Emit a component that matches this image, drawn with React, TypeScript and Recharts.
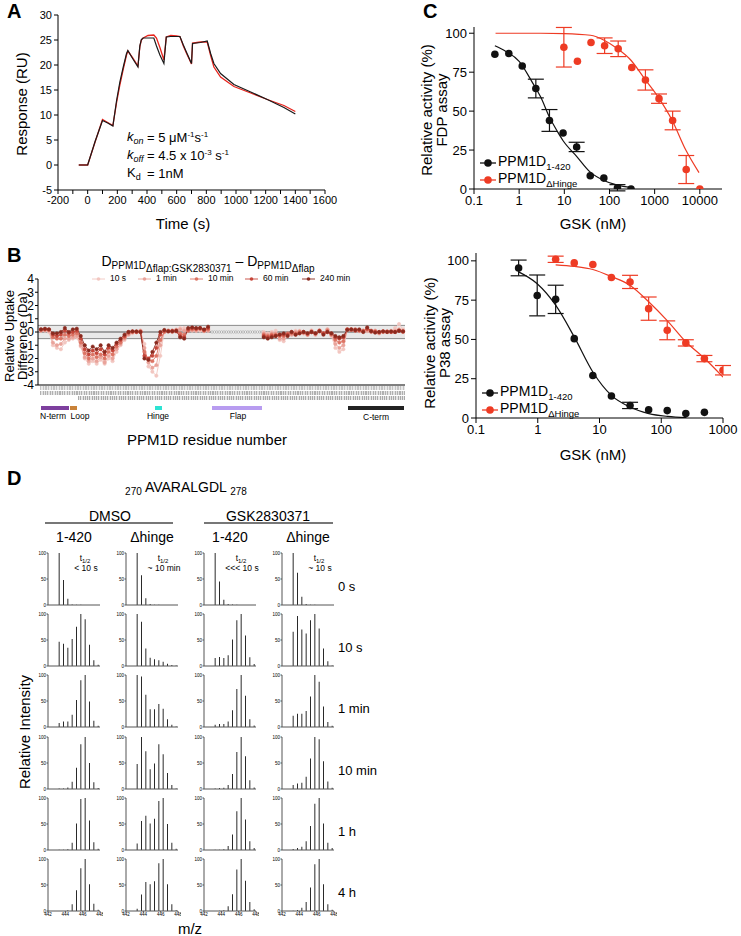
import React from "react";
import {
  LineChart,
  Line,
  ComposedChart,
  Scatter,
  ErrorBar,
  BarChart,
  Bar,
  XAxis,
  YAxis,
  ZAxis,
  ReferenceArea,
  ReferenceLine,
} from "recharts";

const FONT = '"Liberation Sans", Arial, Helvetica, sans-serif';
const RED = "#ee3b24";
const BLK = "#111111";

// ---------- A: SPR sensorgram ----------
const timeA = [-60, 0, 50, 100, 135, 170, 195, 217, 240, 262, 271, 305, 339, 352, 362, 374, 407, 446, 464, 487, 514, 530, 560, 600, 622, 645, 667, 700, 707, 760, 806, 829, 851, 896, 986, 1099, 1211, 1323, 1400];
const blackA = [0, 0, 4.7, 8.9, 8.4, 7.8, 12.9, 16.6, 19.6, 22.3, 22.9, 21.2, 19.6, 23.9, 25.1, 25.4, 25.4, 25.4, 23.8, 22.0, 20.3, 25.6, 25.7, 25.7, 25.7, 24.0, 22.5, 20.3, 24.3, 24.5, 24.8, 22.3, 20.3, 18.3, 16.1, 14.6, 13.1, 11.5, 10.2];
const redA = [0, 0, 4.6, 9.1, 8.5, 7.9, 12.5, 16.0, 19.2, 22.0, 22.8, 21.4, 19.8, 23.7, 25.0, 25.4, 25.9, 26.0, 25.4, 23.5, 21.0, 25.6, 25.9, 25.8, 25.7, 23.8, 22.3, 20.2, 24.4, 24.6, 24.6, 21.9, 19.6, 17.6, 15.7, 14.4, 13.1, 11.9, 10.7];
const ticksTimeA = [-200, -100, 0, 100, 200, 300, 400, 500, 600, 700, 800, 900, 1000, 1100, 1200, 1300, 1400, 1500, 1600];
const ticksRespA = [-5, 0, 5, 10, 15, 20, 25, 30];

// ---------- B: HDX difference plot ----------
const s240 = [0.2, 0.25, 0.2, -0.1, -0.1, 0.0, 0.3, 0.0, 0.2, 0.25, -0.3, -1.0, -1.4, -1.1, -1.3, -1.0, -1.5, -1.0, -1.2, -0.8, -0.5, -0.2, 0.0, 0.05, 0.05, 0.0, -2.0, -2.1, -1.5, -0.8, 0.0, 0.15, 0.05, 0.05, 0.1, -0.4, -0.5, 0.3, 0.35, 0.3, 0.3, 0.2, 0.4, null, null, null, null, null, null, null, null, null, null, null, null, null, -0.4, -0.5, -0.4, -0.3, -0.2, -0.1, -0.3, 0.0, -0.2, -0.1, 0.0, -0.1, 0.0, -0.1, 0.05, -0.2, 0.0, -0.1, -0.3, -0.4, -0.3, 0.15, 0.2, 0.15, 0.2, 0.0, 0.35, 0.05, -0.05, 0.0, 0.05, 0.0, 0.05, 0.0, 0.1, 0.05];
const s60 = [0.2, 0.2, 0.2, -0.2, -0.3, -0.2, 0.1, -0.1, 0.0, 0.1, -0.5, -1.3, -1.7, -1.4, -1.6, -1.3, -1.7, -1.2, -1.4, -0.9, -0.6, -0.3, 0.0, 0.05, 0.0, 0.0, -1.8, -2.0, -1.8, -1.2, -0.2, 0.1, 0.05, 0.1, 0.05, -0.3, -0.4, 0.2, 0.3, 0.25, 0.3, 0.15, 0.3, null, null, null, null, null, null, null, null, null, null, null, null, null, -0.3, -0.4, -0.3, -0.3, -0.2, -0.2, -0.2, 0.0, -0.2, -0.1, 0.0, -0.1, 0.0, -0.1, 0.1, -0.1, 0.0, -0.1, -0.4, -0.5, -0.4, 0.2, 0.2, 0.1, 0.15, 0.05, 0.25, 0.1, 0.0, 0.0, 0.05, 0.05, 0.0, 0.0, 0.1, 0.05];
const s10m = [0.15, 0.2, 0.15, -0.4, -0.5, -0.5, -0.2, -0.3, -0.2, -0.1, -0.8, -1.6, -2.0, -1.7, -1.9, -1.7, -2.0, -1.5, -1.7, -1.1, -0.8, -0.4, -0.1, 0.0, 0.0, 0.05, -1.5, -2.1, -2.2, -1.8, -0.6, 0.0, 0.1, 0.05, 0.1, -0.1, -0.2, 0.1, 0.2, 0.2, 0.25, 0.1, 0.2, null, null, null, null, null, null, null, null, null, null, null, null, null, -0.2, -0.3, -0.2, -0.2, -0.3, -0.3, -0.1, -0.1, -0.1, 0.0, 0.0, -0.2, 0.0, -0.1, 0.1, -0.1, 0.1, -0.2, -0.6, -0.8, -0.7, 0.2, 0.15, 0.2, 0.1, 0.1, 0.2, 0.05, 0.05, -0.05, 0.0, 0.0, 0.0, 0.0, 0.1, 0.0];
const s1m = [0.1, 0.15, 0.1, -0.8, -1.0, -0.9, -0.5, -0.5, -0.4, -0.3, -1.0, -1.9, -2.2, -2.0, -2.2, -1.9, -2.3, -1.8, -2.0, -1.3, -0.9, -0.5, -0.2, 0.0, 0.05, 0.1, -1.2, -2.3, -2.7, -2.5, -1.0, 0.05, 0.1, 0.0, 0.15, 0.2, 0.1, 0.1, 0.15, 0.1, 0.2, 0.1, 0.1, null, null, null, null, null, null, null, null, null, null, null, null, null, -0.1, -0.2, -0.1, -0.1, -0.5, -0.5, -0.2, -0.2, 0.0, 0.05, -0.1, -0.2, 0.1, -0.2, 0.1, -0.1, 0.2, -0.2, -0.9, -1.2, -1.0, 0.2, 0.2, 0.2, 0.1, 0.1, 0.1, 0.0, 0.1, -0.1, 0.05, 0.0, 0.05, 0.1, 0.2, 0.1];
const s10s = [0.1, 0.1, 0.0, -1.0, -1.2, -1.3, -0.8, -0.6, -0.5, -0.4, -1.1, -2.0, -2.4, -2.2, -2.4, -2.1, -2.4, -2.0, -2.2, -1.5, -1.0, -0.6, -0.2, -0.1, 0.0, 0.1, -0.9, -2.6, -3.0, -3.3, -1.8, 0.1, 0.05, 0.1, 0.2, 0.3, 0.3, 0.2, 0.1, 0.1, 0.1, 0.05, 0.1, null, null, null, null, null, null, null, null, null, null, null, null, null, 0.0, -0.1, 0.0, 0.1, -0.6, -0.7, -0.3, -0.2, 0.1, 0.1, -0.1, -0.2, 0.1, -0.2, 0.05, -0.2, 0.2, -0.3, -1.2, -1.5, -1.3, 0.15, 0.2, 0.1, 0.05, 0.0, 0.05, 0.0, 0.1, -0.1, 0.05, 0.0, 0.1, 0.3, 0.6, 0.2];
const flapIdx = [43, 43.6, 44.2, 44.8, 45.4, 46, 46.6, 47.2, 47.8, 48.4, 49, 49.6, 50.2, 50.8, 51.4, 52, 52.6, 53.2, 53.8, 54.4, 55, 55.6];
const flapUptake = [0, 0, 0, 0, 0, 0, 0, 0, 0, 0, 0, 0, 0, 0, 0, 0, 0, 0, 0, 0, 0, 0];
const ticksUptakeB = [4, 3, 2, 1, 0, -1, -2, -3, -4];

const seriesB = [
  { key: "s10s", label: "10 s", color: "#f2c6c0", lx: 92 },
  { key: "s1m", label: "1 min", color: "#e9a39a", lx: 138 },
  { key: "s10m", label: "10 min", color: "#dc7464", lx: 190 },
  { key: "s60m", label: "60 min", color: "#c6463a", lx: 245 },
  { key: "s240m", label: "240 min", color: "#8a2a1f", lx: 302 },
];

// ---------- C: dose response ----------
const fdpBlackConc = [0.29, 0.59, 1.17, 2.34, 4.69, 9.38, 18.75, 37.5, 75, 150, 300];
const fdpBlackAct = [86.5, 87, 79, 64.5, 44, 36, 27, 8.5, 7, 0.8, 0];
const fdpBlackErr = [0, 0, 0, 6, 7, 0, 3, 0, 0, 2, 0];
const fdpRedConc = [9.77, 19.5, 39, 78, 156, 312, 625, 1250, 2500, 5000, 10000];
const fdpRedAct = [91, 82, 94, 92, 90, 78, 70, 58, 44, 12.5, 0];
const fdpRedErr = [12.7, 0, 0, 5, 5, 0, 6.5, 3, 6, 9, 0];
const fdpBlackFitConc = [0.29, 0.5, 1, 2, 3, 4.7, 7, 9.4, 18.7, 37, 75, 150, 300];
const fdpBlackFitAct = [92, 88.5, 82, 68, 59, 46, 37, 31, 21, 11, 5.5, 2.5, 1];
const fdpRedFitConc = [0.3, 3, 10, 38, 76, 151, 302, 590, 1200, 2450, 4900, 9600];
const fdpRedFitAct = [100, 100, 99.8, 98.7, 95.5, 90, 82.5, 71, 59, 44, 25, 10.5];

const p38BlackConc = [0.49, 0.98, 1.95, 3.9, 7.8, 15.6, 31.25, 62.5, 125, 250, 500];
const p38BlackAct = [95.5, 78, 75.5, 50.5, 27, 14, 8, 5.3, 4.7, 2.8, 3.6];
const p38BlackErr = [5, 13, 9, 0, 0, 0, 2, 0, 0, 0, 0];
const p38RedConc = [1.95, 3.9, 7.8, 15.6, 31.25, 62.5, 125, 250, 500, 1000];
const p38RedAct = [101, 98.7, 97.7, 89.4, 86.6, 69.6, 55.8, 47.8, 37.8, 30.4];
const p38RedErr = [2, 0, 0, 0, 4.2, 7.4, 6, 2, 2, 3];
const p38BlackFitConc = [0.49, 0.97, 1.95, 3.9, 7.8, 15.6, 31, 63, 127, 255];
const p38BlackFitAct = [93, 85.6, 71.8, 51.6, 29.3, 14.4, 7, 2.8, 1, 0.2];
const p38RedFitConc = [1.95, 3.9, 7.8, 15.6, 31, 62.5, 125, 250, 500, 1000];
const p38RedFitAct = [97.5, 96.5, 94.5, 90, 84.5, 74, 62, 48.5, 38, 26];

const ticksActC = [0, 25, 50, 75, 100];
const ticksConcTop = [0.1, 1, 10, 100, 1000, 10000];
const ticksConcBot = [0.1, 1, 10, 100, 1000];

// ---------- D: mass spectra (peaks at z=2 isotopes) ----------
const peakMz = [443.25, 443.75, 444.25, 444.75, 445.25, 445.75, 446.25, 446.75, 447.25, 447.75];
const dmso1420 = [
  [100, 48, 12, 1, 0.5, 0.5, 0, 0, 0, 0],
  [46.5, 43, 35, 52, 75.5, 100, 90, 41, 11, 2.6],
  [7.6, 10.8, 10.8, 23.5, 52, 90, 100, 49, 12, 2.5],
  [1, 1, 3, 14, 41, 86, 100, 50, 13, 2],
  [0.6, 0.6, 1.3, 14, 51, 98, 100, 56.7, 15, 2.5],
  [0, 0, 1.3, 13, 40, 82, 100, 51.6, 14, 2.6],
];
const dmsoHinge = [
  [100, 57, 13, 2, 0.5, 0.5, 0, 0, 0, 0],
  [100, 85, 33.5, 16, 13, 11, 8, 4.5, 2, 1],
  [100, 97, 62, 34, 34, 44, 35, 15, 4.4, 1],
  [48, 100, 72.6, 38, 49, 86, 67, 31, 7.6, 1],
  [12.7, 56, 66, 51, 60, 94, 100, 50, 14, 2.5],
  [4.5, 31.6, 56, 51.6, 57.4, 91.6, 100, 51.6, 13, 1.3],
];
const gsk1420 = [
  [100, 45, 10, 2, 1, 0.5, 0, 0, 0, 0],
  [15.5, 17.4, 15.5, 20.6, 51, 88, 100, 58.7, 16.8, 4],
  [4.4, 5.7, 5.7, 10.8, 32, 73, 100, 60, 15, 3],
  [1, 2, 2.5, 7.6, 28.7, 71, 100, 63, 17, 3],
  [0.6, 0.6, 1.3, 7.6, 30, 74.5, 100, 58.6, 17, 3.8],
  [0, 0.6, 1.3, 9, 32, 80, 100, 58, 17.4, 3.2],
];
const gskHinge = [
  [100, 62, 16, 2, 0.5, 0.5, 0, 0, 0, 0],
  [66, 96, 70, 62.6, 88, 100, 72, 33.5, 9, 1],
  [21.6, 25.4, 25.4, 31, 58.5, 100, 87, 39.5, 9.5, 2.5],
  [7.6, 10.8, 12, 23.6, 58.6, 100, 95.5, 53.5, 14.6, 2.5],
  [2, 3.8, 6.4, 17, 46, 89, 100, 51, 14, 3.8],
  [0.6, 2, 6.4, 17.4, 45, 90, 100, 51.6, 13, 2.6],
];
const timeLabelsD = ["0 s", "10 s", "1 min", "10 min", "1 h", "4 h"];
const halfLifeD = ["< 10 s", "~ 10 min", "<<< 10 s", "~ 10 s"];
const ticksMz = [442, 444, 446, 448];

// layout of panel D grid
const colX = [48, 126, 204, 282];
const rowY = [553, 614, 675, 737, 798, 859];

function Txt({ x, y, size = 14, anchor = "middle", rot = 0, bold = false, children, style }: any) {
  const tx = anchor === "middle" ? "-50%" : anchor === "end" ? "-100%" : "0";
  return (
    <div
      style={{
        position: "absolute",
        left: x,
        top: y,
        transform: `translate(${tx}, -50%)${rot ? ` rotate(${rot}deg)` : ""}`,
        fontSize: size,
        fontWeight: bold ? 700 : 400,
        lineHeight: 1.15,
        whiteSpace: "nowrap",
        color: "#000",
        textAlign: "center",
        ...style,
      }}
    >
      {children}
    </div>
  );
}

const sub = (fs: number, off: number) => ({ fontSize: fs, verticalAlign: `${-off}px` });
const sup = (fs: number, off: number) => ({ fontSize: fs, verticalAlign: `${off}px` });

function PanelA() {
  const rows = timeA.map((t, i) => ({ t, black: blackA[i], red: redA[i] }));
  return (
    <>
      <div style={{ position: "absolute", left: 0, top: 0 }}>
        <LineChart width={340} height={220} data={rows} margin={{ top: 15, right: 15, bottom: 0, left: 0 }}>
          <XAxis
            dataKey="t"
            type="number"
            domain={[-200, 1600]}
            ticks={ticksTimeA}
            interval={0}
            tickFormatter={(v: number) => (v % 200 === 0 ? String(v) : "")}
            height={30}
            tickSize={4}
            tickMargin={2}
            stroke="#000"
            tick={{ fontSize: 11, fill: "#000" }}
          />
          <YAxis
            type="number"
            domain={[-5, 30]}
            ticks={ticksRespA}
            interval={0}
            width={58}
            tickSize={4}
            tickMargin={2}
            stroke="#000"
            tick={{ fontSize: 11, fill: "#000" }}
          />
          <Line dataKey="red" type="linear" stroke="#e8231c" strokeWidth={1.3} dot={false} isAnimationActive={false} />
          <Line dataKey="black" type="linear" stroke="#1a1a1a" strokeWidth={1.2} dot={false} isAnimationActive={false} />
        </LineChart>
      </div>
      <Txt x={7} y={11} size={20} bold anchor="start">A</Txt>
      <Txt x={22} y={104} size={15} rot={-90}>Response (RU)</Txt>
      <Txt x={183} y={224} size={15}>Time (s)</Txt>
      <Txt x={127} y={138} size={13} anchor="start">
        <i>k</i><i style={sub(9, 3)}>on</i>
      </Txt>
      <Txt x={147} y={138} size={13} anchor="start">
        = 5 μM<span style={sup(8, 5)}>-1</span>s<span style={sup(8, 5)}>-1</span>
      </Txt>
      <Txt x={127} y={156} size={13} anchor="start">
        <i>k</i><i style={sub(9, 3)}>off</i>
      </Txt>
      <Txt x={147} y={156} size={13} anchor="start">
        = 4.5 x 10<span style={sup(8, 5)}>-3</span> s<span style={sup(8, 5)}>-1</span>
      </Txt>
      <Txt x={127} y={174} size={13} anchor="start">
        K<span style={sub(9, 3)}>d</span>
      </Txt>
      <Txt x={147} y={174} size={13} anchor="start">= 1nM</Txt>
    </>
  );
}

function PanelB() {
  const rows = s240.map((_, i) => ({
    i,
    s10s: s10s[i],
    s1m: s1m[i],
    s10m: s10m[i],
    s60m: s60[i],
    s240m: s240[i],
  }));
  const flapRows = flapIdx.map((i, k) => ({ i, v: flapUptake[k] }));
  return (
    <>
      <div style={{ position: "absolute", left: 0, top: 250 }}>
        <LineChart width={420} height={147} data={rows} margin={{ top: 29, right: 15, bottom: 0, left: 0 }}>
          <ReferenceArea y1={-0.5} y2={0.5} fill="#e9e9e9" fillOpacity={1} stroke="none" />
          <ReferenceLine y={0.5} stroke="#8a8a8a" strokeWidth={1} />
          <ReferenceLine y={-0.5} stroke="#8a8a8a" strokeWidth={1} />
          <ReferenceLine y={0} stroke="#a0a0a0" strokeWidth={2} />
          <XAxis dataKey="i" type="number" domain={[-0.75, 91.5]} tick={false} height={12} stroke="#000" tickSize={0} />
          <YAxis
            type="number"
            domain={[-4, 4]}
            ticks={ticksUptakeB}
            interval={0}
            width={38}
            tickSize={3}
            tickMargin={1}
            stroke="#000"
            tick={{ fontSize: 12, fill: "#000" }}
          />
          <Line
            data={flapRows}
            dataKey="v"
            stroke="#c4c4c4"
            strokeWidth={0.6}
            dot={{ r: 1.2, fill: "#fff", stroke: "#9a9a9a", strokeWidth: 0.6 }}
            isAnimationActive={false}
          />
          {seriesB.map((s) => (
            <Line
              key={s.key}
              dataKey={s.key}
              stroke={s.color}
              strokeWidth={0.9}
              dot={{ r: 1.7, fill: s.color, stroke: s.color, strokeWidth: 0.5 }}
              isAnimationActive={false}
            />
          ))}
        </LineChart>
      </div>
      <Txt x={7} y={255} size={20} bold anchor="start">B</Txt>
      <Txt x={208} y={264} size={14}>
        D<span style={sub(10, 3)}>PPM1D<span style={sub(10, 3)}>Δflap:GSK2830371</span></span> – D
        <span style={sub(10, 3)}>PPM1D<span style={sub(10, 3)}>Δflap</span></span>
      </Txt>
      {seriesB.map((s) => (
        <React.Fragment key={s.key}>
          <svg style={{ position: "absolute", left: s.lx, top: 276 }} width={13} height={6}>
            <line x1={0} y1={3} x2={13} y2={3} stroke={s.color} strokeWidth={0.9} />
            <circle cx={6.5} cy={3} r={1.8} fill={s.color} />
          </svg>
          <Txt x={s.lx + 18} y={279} size={8.5} anchor="start">{s.label}</Txt>
        </React.Fragment>
      ))}
      <Txt x={16} y={336} size={13} rot={-90} style={{ lineHeight: 1.0 }}>
        Relative Uptake
        <br />
        Difference (Da)
      </Txt>
      {/* residue labels strip (illegible in source) */}
      <div
        style={{
          position: "absolute",
          left: 40,
          top: 386,
          width: 365,
          height: 4,
          background: "repeating-linear-gradient(90deg, #bdbdbd 0 0.8px, #e6e6e6 0.8px 1.6px)",
          opacity: 0.9,
        }}
      />
      <div
        style={{
          position: "absolute",
          left: 40,
          top: 391,
          width: 365,
          height: 4,
          background: "repeating-linear-gradient(90deg, #a8a8a8 0 0.8px, #e0e0e0 0.8px 1.7px)",
          opacity: 0.9,
        }}
      />
      <div
        style={{
          position: "absolute",
          left: 78,
          top: 396,
          width: 327,
          height: 4,
          background: "repeating-linear-gradient(90deg, #a0a0a0 0 0.8px, #e3e3e3 0.8px 1.8px)",
          opacity: 0.9,
        }}
      />
      <div style={{ position: "absolute", left: 41, top: 406, width: 28, height: 4, background: "#7d3f9e" }} />
      <div style={{ position: "absolute", left: 70, top: 406, width: 7, height: 4, background: "#c98239" }} />
      <div style={{ position: "absolute", left: 155, top: 406, width: 7, height: 4, background: "#2de3d3" }} />
      <div style={{ position: "absolute", left: 212, top: 406, width: 50, height: 4, background: "#b89cf0" }} />
      <div style={{ position: "absolute", left: 348, top: 406, width: 56, height: 4, background: "#222" }} />
      <Txt x={53} y={417} size={8.5}>N-term</Txt>
      <Txt x={80} y={417} size={8.5}>Loop</Txt>
      <Txt x={158} y={417} size={8.5}>Hinge</Txt>
      <Txt x={238} y={417} size={8.5}>Flap</Txt>
      <Txt x={376} y={418} size={8.5}>C-term</Txt>
      <Txt x={207} y={440} size={15}>PPM1D residue number</Txt>
    </>
  );
}

function DoseChart({ left, top, width, height, margin, yWidth, xDomain, xTicks, yDomain, bPts, rPts, bFit, rFit }: any) {
  return (
    <div style={{ position: "absolute", left, top }}>
      <ComposedChart width={width} height={height} margin={margin}>
        <XAxis
          dataKey="x"
          type="number"
          scale="log"
          domain={xDomain}
          ticks={xTicks}
          interval={0}
          allowDataOverflow
          height={30}
          tickSize={5}
          tickMargin={2}
          stroke="#000"
          tick={{ fontSize: 13, fill: "#000" }}
          tickFormatter={(v: number) => String(v)}
        />
        <YAxis
          type="number"
          domain={yDomain}
          ticks={ticksActC}
          interval={0}
          width={yWidth}
          tickSize={5}
          tickMargin={2}
          stroke="#000"
          tick={{ fontSize: 13, fill: "#000" }}
          allowDataOverflow
        />
        <ZAxis range={[45, 45]} />
        <Line data={bFit} dataKey="y" type="monotone" stroke={BLK} strokeWidth={1.2} dot={false} isAnimationActive={false} />
        <Line data={rFit} dataKey="y" type="monotone" stroke={RED} strokeWidth={1.2} dot={false} isAnimationActive={false} />
        <Scatter data={bPts} dataKey="y" fill={BLK} isAnimationActive={false}>
          <ErrorBar dataKey="e" direction="y" width={8} stroke={BLK} strokeWidth={1.2} />
        </Scatter>
        <Scatter data={rPts} dataKey="y" fill={RED} isAnimationActive={false}>
          <ErrorBar dataKey="e" direction="y" width={8} stroke={RED} strokeWidth={1.2} />
        </Scatter>
      </ComposedChart>
    </div>
  );
}

function DoseLegend({ x, y, color, subText }: any) {
  return (
    <>
      <svg style={{ position: "absolute", left: x, top: y - 5 }} width={16} height={10}>
        <line x1={0} y1={5} x2={16} y2={5} stroke={color} strokeWidth={1.3} />
        <circle cx={8} cy={5} r={3.8} fill={color} />
      </svg>
      <Txt x={x + 18} y={y} size={14} anchor="start">
        PPM1D<span style={sub(9.5, 4)}>{subText}</span>
      </Txt>
    </>
  );
}

const pts = (xs: number[], ys: number[], es?: number[]) => xs.map((x, i) => ({ x, y: ys[i], e: es ? es[i] : 0 }));

function PanelC() {
  return (
    <>
      <DoseChart
        left={360}
        top={0}
        width={377}
        height={219}
        margin={{ top: 27, right: 15, bottom: 0, left: 0 }}
        yWidth={114}
        xDomain={[0.1, 31000]}
        xTicks={ticksConcTop}
        yDomain={[0, 104]}
        bPts={pts(fdpBlackConc, fdpBlackAct, fdpBlackErr)}
        rPts={pts(fdpRedConc, fdpRedAct, fdpRedErr)}
        bFit={pts(fdpBlackFitConc, fdpBlackFitAct)}
        rFit={pts(fdpRedFitConc, fdpRedFitAct)}
      />
      <DoseChart
        left={360}
        top={230}
        width={381}
        height={218}
        margin={{ top: 23, right: 18, bottom: 0, left: 0 }}
        yWidth={116}
        xDomain={[0.1, 1000]}
        xTicks={ticksConcBot}
        yDomain={[0, 105]}
        bPts={pts(p38BlackConc, p38BlackAct, p38BlackErr)}
        rPts={pts(p38RedConc, p38RedAct, p38RedErr)}
        bFit={pts(p38BlackFitConc, p38BlackFitAct)}
        rFit={pts(p38RedFitConc, p38RedFitAct)}
      />
      <Txt x={423} y={11} size={20} bold anchor="start">C</Txt>
      <Txt x={434} y={110} size={15} rot={-90} style={{ lineHeight: 1.0 }}>
        Relative activity (%)
        <br />
        FDP assay
      </Txt>
      <Txt x={593} y={224} size={15}>GSK (nM)</Txt>
      <DoseLegend x={480} y={163} color={BLK} subText="1-420" />
      <DoseLegend x={480} y={180} color={RED} subText="ΔHinge" />

      <Txt x={437} y={343} size={15} rot={-90} style={{ lineHeight: 1.0 }}>
        Relative activity (%)
        <br />
        P38 assay
      </Txt>
      <Txt x={593} y={455} size={15}>GSK (nM)</Txt>
      <DoseLegend x={482} y={393} color={BLK} subText="1-420" />
      <DoseLegend x={482} y={410} color={RED} subText="ΔHinge" />
    </>
  );
}

function Spectrum({ vals, x, y, last }: any) {
  const data = peakMz.map((mz, i) => ({ mz, v: vals[i] }));
  const yw = 12;
  const xh = last ? 9 : 2;
  return (
    <div style={{ position: "absolute", left: x - yw, top: y - 2 }}>
      <BarChart width={yw + 55} height={2 + 52 + xh} data={data} margin={{ top: 2, right: 3, bottom: 0, left: 0 }}>
        <XAxis
          dataKey="mz"
          type="number"
          domain={[442, 448]}
          ticks={ticksMz}
          interval={0}
          height={xh}
          tick={last ? { fontSize: 4.5, fill: "#000" } : false}
          tickSize={1.5}
          tickMargin={0.5}
          stroke="#555"
        />
        <YAxis
          type="number"
          domain={[0, 100]}
          ticks={[0, 50, 100]}
          interval={0}
          width={yw}
          tickSize={1.5}
          tickMargin={0.5}
          stroke="#555"
          tick={{ fontSize: 4.5, fill: "#000" }}
        />
        <Bar dataKey="v" fill="#2a2a2a" barSize={1} isAnimationActive={false} />
      </BarChart>
    </div>
  );
}

function PanelD() {
  const cols = [dmso1420, dmsoHinge, gsk1420, gskHinge];
  const heads = ["1-420", "Δhinge", "1-420", "Δhinge"];
  return (
    <>
      <Txt x={7} y={478} size={20} bold anchor="start">D</Txt>
      <Txt x={186} y={488} size={14}>
        <span style={sub(10, 3)}>270</span> AVARALGDL <span style={sub(10, 3)}>278</span>
      </Txt>
      <Txt x={110} y={516} size={14}>DMSO</Txt>
      <div style={{ position: "absolute", left: 45, top: 522, width: 128, height: 1.5, background: "#777" }} />
      <Txt x={268} y={516} size={14}>GSK2830371</Txt>
      <div style={{ position: "absolute", left: 204, top: 522, width: 129, height: 1.5, background: "#777" }} />
      {heads.map((h, c) => (
        <Txt key={c} x={colX[c] + 26} y={537} size={14}>{h}</Txt>
      ))}
      {cols.map((col, c) =>
        col.map((vals, r) => <Spectrum key={`${c}-${r}`} vals={vals} x={colX[c]} y={rowY[r]} last={r === 5} />)
      )}
      {halfLifeD.map((t, c) => (
        <React.Fragment key={c}>
          <Txt x={colX[c] + 37} y={559} size={8.5}>
            t<span style={sub(6, 2)}>1/2</span>
          </Txt>
          <Txt x={colX[c] + 38} y={569} size={8.5}>{t}</Txt>
        </React.Fragment>
      ))}
      {timeLabelsD.map((t, r) => (
        <Txt key={t} x={338} y={rowY[r] + 34} size={13} anchor="start">{t}</Txt>
      ))}
      <Txt x={25} y={732} size={15} rot={-90}>Relative Intensity</Txt>
      <Txt x={190} y={929} size={15}>m/z</Txt>
    </>
  );
}

export default function App() {
  return (
    <div
      style={{
        position: "absolute",
        left: 0,
        top: 0,
        width: 741,
        height: 936,
        background: "#fff",
        fontFamily: FONT,
        overflow: "hidden",
      }}
    >
      <PanelA />
      <PanelB />
      <PanelC />
      <PanelD />
    </div>
  );
}
